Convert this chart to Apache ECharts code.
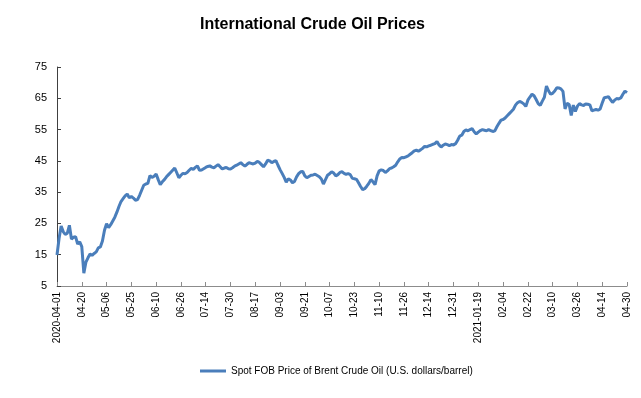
<!DOCTYPE html>
<html lang="en" style="height: 100%">
<head>
    <meta charset="UTF-8">
    <title>International Crude Oil Prices</title>
    <script src="https://cdn.jsdelivr.net/npm/echarts@6/dist/echarts.min.js"></script>
</head>
<body style="height: 100%; margin: 0; background: #fff">
<div id="container" style="width: 641px; height: 398px"></div>
<script type="text/javascript">
    // tick labels, one every 12 trading days
    var tickLabels = ['2020-04-01', '04-20', '05-06', '05-25', '06-10', '06-26', '07-14', '07-30',
        '08-17', '09-03', '09-21', '10-07', '10-23', '11-10', '11-26', '12-14', '12-31',
        '2021-01-19', '02-04', '02-22', '03-10', '03-26', '04-14', '04-30'];
    var step = 12;

    // Brent spot price, U.S. dollars/barrel
    var brent = [
        14.9, 20.2, 24.2, 22.4, 21.5, 21.9, 24.4, 20.0, 20.6, 20.8, 18.4, 19.1,
        17.6, 9.1, 12.6, 14.0, 15.2, 14.8, 15.4, 15.9, 17.2, 17.5, 19.4, 22.8,
        24.9, 23.7, 24.6, 25.8, 27.0, 28.6, 30.4, 32.0, 32.9, 33.8, 34.4, 33.2,
        33.6, 33.1, 32.4, 32.6, 34.0, 35.6, 37.2, 37.6, 37.8, 40.3, 39.7, 40.1,
        40.8, 39.0, 37.4, 38.3, 39.0, 39.9, 40.6, 41.3, 42.0, 42.7, 41.2, 39.6,
        40.4, 41.0, 40.9, 41.3, 42.0, 42.6, 42.3, 42.9, 43.4, 42.0, 42.1, 42.5,
        42.9, 43.2, 43.4, 43.0, 42.8, 43.3, 43.8, 43.1, 42.4, 42.7, 42.9, 42.5,
        42.4, 42.8, 43.3, 43.6, 44.0, 44.4, 43.8, 43.3, 43.9, 44.4, 44.2, 44.0,
        44.3, 44.8, 44.5, 43.8, 43.1, 44.0, 45.2, 45.0, 44.4, 44.8, 45.1, 43.6,
        42.2, 41.0, 39.7, 38.2, 39.3, 38.9, 38.0, 38.4, 39.9, 40.9, 41.5, 41.6,
        40.2, 39.6, 40.0, 40.4, 40.5, 40.7, 40.3, 39.9, 39.2, 37.6, 39.0, 40.4,
        40.9, 41.5, 41.1, 40.2, 40.6, 41.3, 41.5, 41.0, 40.7, 40.9, 40.6, 39.4,
        39.3, 39.1, 38.0, 36.8, 35.8, 36.1, 36.9, 37.8, 39.0, 38.3, 37.4, 40.2,
        41.8, 42.1, 41.9, 41.3, 41.8, 42.5, 42.7, 43.1, 43.6, 44.7, 45.6, 46.1,
        46.0, 46.3, 46.6, 47.1, 47.6, 48.2, 48.4, 48.1, 48.5, 49.0, 49.6, 49.5,
        49.8, 50.0, 50.3, 50.5, 51.2, 50.1, 49.4, 50.0, 50.4, 50.2, 49.9, 50.2,
        50.1, 50.5, 51.6, 52.9, 53.2, 54.4, 54.9, 54.6, 55.0, 55.3, 54.3, 53.6,
        54.2, 54.7, 55.0, 54.8, 54.6, 55.0, 54.7, 54.4, 54.6, 55.9, 57.0, 58.0,
        58.2, 58.7, 59.4, 60.1, 60.8, 61.5, 62.8, 63.6, 64.0, 63.7, 63.2, 62.4,
        64.4, 65.4, 66.3, 65.8, 64.6, 63.3, 62.7, 64.1, 65.3, 68.9, 67.4, 66.3,
        66.6, 67.3, 68.4, 68.3, 68.0, 67.2, 61.6, 63.4, 63.0, 59.5, 62.8, 60.8,
        62.5, 63.3, 62.9, 62.7, 63.2, 63.1, 62.9, 61.0, 61.2, 61.4, 61.2, 61.6,
        63.5, 65.2, 65.3, 65.5, 64.6, 63.7, 64.4, 64.9, 64.8, 65.1, 66.3, 67.3,
        66.8
    ];

    var yMin = 5, yMax = 75, yStep = 10;

    // one category per trading day, named by tick label where there is one
    var days = [];
    for (var i = 0; i < brent.length; i++) {
        days.push(i % step === 0 ? tickLabels[i / step] : 'd' + i);
    }
    function onTick(idx) { return idx % step === 0; }

    var myChart = echarts.init(document.getElementById('container'));
    var option = {
        backgroundColor: '#fff',
        animation: false,
        title: {
            text: 'International Crude Oil Prices',
            left: 195,
            top: 12,
            textStyle: {fontFamily: 'Liberation Sans', fontSize: 16, fontWeight: 'bold', color: '#000'}
        },
        legend: {
            bottom: 17,
            left: 195,
            itemWidth: 26,
            itemHeight: 3,
            itemGap: 4,
            icon: 'rect',
            textStyle: {fontFamily: 'Liberation Sans', fontSize: 10, color: '#000'},
            data: ['Spot FOB Price of Brent Crude Oil (U.S. dollars/barrel)']
        },
        grid: {left: 57, right: 14, top: 67, bottom: 112},
        xAxis: {
            type: 'category',
            data: days,
            boundaryGap: false,
            axisLine: {lineStyle: {color: '#8c8c8c', width: 1}},
            axisTick: {inside: true, length: 4, interval: onTick, lineStyle: {color: '#8c8c8c'}},
            axisLabel: {
                interval: onTick,
                rotate: 90,
                margin: 6,
                fontFamily: 'Liberation Sans',
                fontSize: 10,
                color: '#000'
            },
            splitLine: {show: false}
        },
        yAxis: {
            type: 'value',
            min: yMin,
            max: yMax,
            interval: yStep,
            axisLine: {show: true, lineStyle: {color: '#404040', width: 1}},
            axisTick: {show: true, inside: true, length: 4, lineStyle: {color: '#404040'}},
            axisLabel: {fontFamily: 'Liberation Sans', fontSize: 11, color: '#000', margin: 10},
            splitLine: {show: false}
        },
        series: [{
            name: 'Spot FOB Price of Brent Crude Oil (U.S. dollars/barrel)',
            type: 'line',
            data: brent,
            showSymbol: false,
            symbol: 'none',
            lineStyle: {color: '#4a7ebb', width: 3},
            itemStyle: {color: '#4a7ebb'}
        }]
    };
    myChart.setOption(option);
</script>
</body>
</html>
